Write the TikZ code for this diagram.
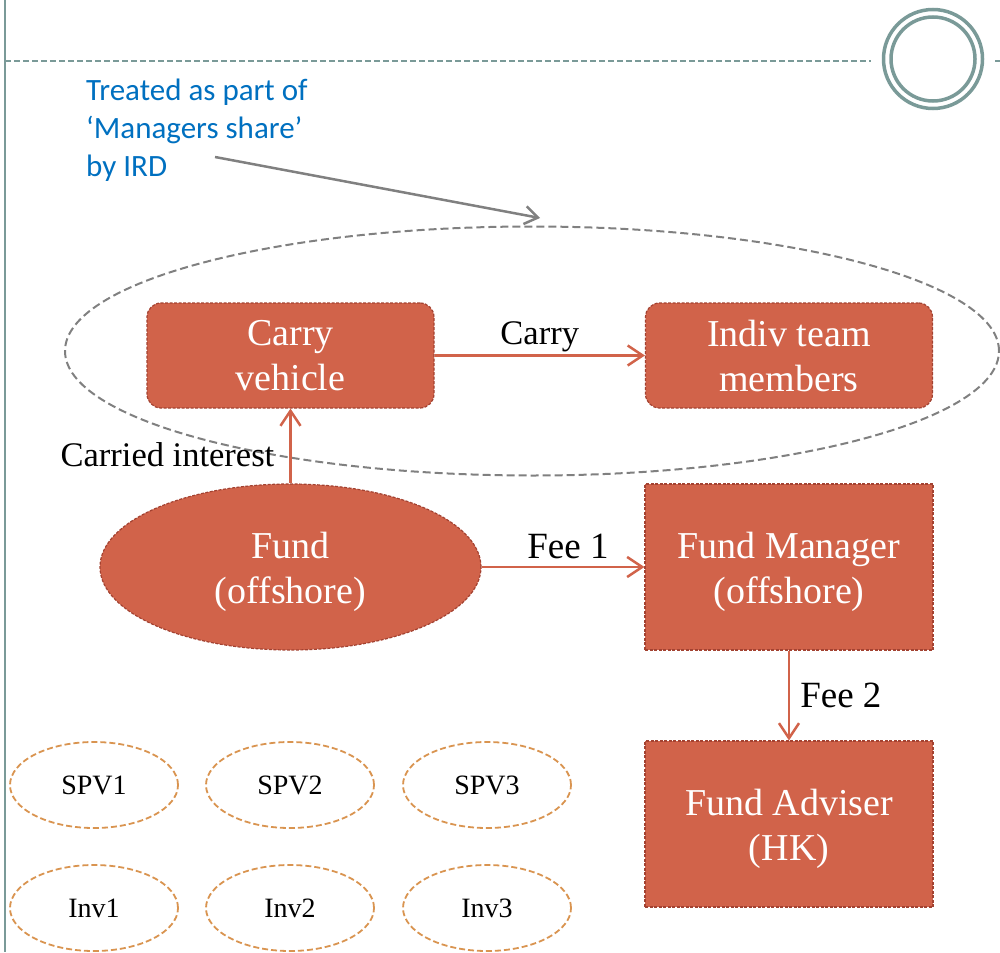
\documentclass[tikz,border=0pt]{standalone}
\usepackage{fontspec}
\setmainfont{Liberation Serif}
\newfontfamily\notefont{Carlito}
\usetikzlibrary{shapes.geometric,arrows.meta}
\definecolor{brick}{RGB}{209,99,74}
\definecolor{brickedge}{RGB}{163,66,49}
\definecolor{slate}{RGB}{122,154,152}
\definecolor{noteblue}{RGB}{0,112,192}
\definecolor{ochre}{RGB}{217,148,80}
\definecolor{pointergray}{RGB}{128,128,128}
% taller first line so two-line labels with parentheses sit centred
\newcommand{\headstrut}{\rule{0pt}{36pt}}

\begin{document}
\begin{tikzpicture}[x=1pt,y=-1pt,
  entity/.style={draw=brickedge, line width=1.2pt, dash pattern=on 3pt off 1.5pt,
    fill=brick, text=white, align=center, font=\fontsize{38}{45}\selectfont, inner sep=0pt},
  roundbox/.style={entity, rectangle, rounded corners=14pt, minimum width=287pt, minimum height=105pt},
  squarebox/.style={entity, rectangle, minimum width=288pt, minimum height=166pt},
  oval/.style={entity, ellipse, minimum width=381pt, minimum height=166pt},
  holding/.style={ellipse, draw=ochre, line width=1.8pt, dash pattern=on 6pt off 3pt,
    minimum width=168pt, minimum height=86pt, inner sep=0pt, font=\fontsize{28}{30}\selectfont},
  flow/.style={draw=brick, line width=2.5pt, -{Straight Barb[length=15pt,width=20pt]}},
  flowlabel/.style={font=\fontsize{37}{40}\selectfont, inner sep=0pt},
  sidelabel/.style={font=\fontsize{34.5}{38}\selectfont, inner sep=0pt},
]
\useasboundingbox (0,0) rectangle (1000,952);

% slide frame: left rule, dashed header rule and ring
\draw[slate, line width=2.5pt] (5,0) -- (5,952);
\node[circle, draw=slate, line width=3.5pt, minimum size=99pt, inner sep=0pt] (ring) at (933,59) {};
\node[circle, draw=slate, line width=3.5pt, minimum size=84pt, inner sep=0pt] (ringinner) at (933,59) {};
\coordinate (ruleL) at (5,61);
\coordinate (ruleR) at (1000,61);
\draw[slate, line width=1.5pt, dash pattern=on 6pt off 3pt] (ruleL) -- ([xshift=-11pt]ring.west |- ruleL);
\draw[slate, line width=1.5pt, dash pattern=on 6pt off 3pt] ([xshift=11pt]ring.east |- ruleR) -- (ruleR);

% grouping ellipse around the carry structure
\node[ellipse, draw=pointergray, line width=2pt, dash pattern=on 8pt off 4pt,
  minimum width=934pt, minimum height=249pt, inner sep=0pt] (group) at (532,351) {};

% annotation
\node[anchor=north west, align=left, text=noteblue, inner sep=0pt,
  font=\notefont\fontsize{31}{38}\selectfont] (irdnote) at (86,79)
  {Treated as part of\\‘Managers share’\\by IRD};
\coordinate (ptrstart) at (215,157);
\coordinate (ptrend) at (540,218);
\draw[pointergray, line width=2.5pt, -{Straight Barb[length=13pt,width=18pt]}] (ptrstart) -- (ptrend);

% entities
\node[roundbox] (carry) at (290.5,355.5) {Carry\\vehicle};
\node[roundbox] (indiv) at (789,355.5) {Indiv team\\members};
\node[oval] (fund) at (290.5,567) {\headstrut Fund\\(offshore)};
\node[squarebox] (mgr) at (789,567) {\headstrut Fund Manager\\(offshore)};
\node[squarebox] (adv) at (789,824) {\headstrut Fund Adviser\\(HK)};

% flows
\draw[flow] (carry) -- (indiv)
  node[midway, anchor=base, yshift=11pt, sidelabel] (carrylbl) {Carry};
\draw[flow] (fund) -- (carry)
  node[midway, anchor=base east, xshift=-15pt, yshift=-20pt, sidelabel] (cilbl) {Carried interest};
\draw[flow] (fund) -- (mgr)
  node[midway, anchor=base, xshift=5pt, yshift=9pt, flowlabel] (fee1lbl) {Fee 1};
\draw[flow] (mgr) -- (adv)
  node[midway, anchor=base west, xshift=10pt, yshift=-12pt, flowlabel] (fee2lbl) {Fee 2};

% SPVs and investments
\node[holding] (spv1) at (94,785) {SPV1};
\node[holding] (spv2) at (290,785) {SPV2};
\node[holding] (spv3) at (487,785) {SPV3};
\node[holding] (inv1) at (94,908) {Inv1};
\node[holding] (inv2) at (290,908) {Inv2};
\node[holding] (inv3) at (487,908) {Inv3};
\end{tikzpicture}
\end{document}
